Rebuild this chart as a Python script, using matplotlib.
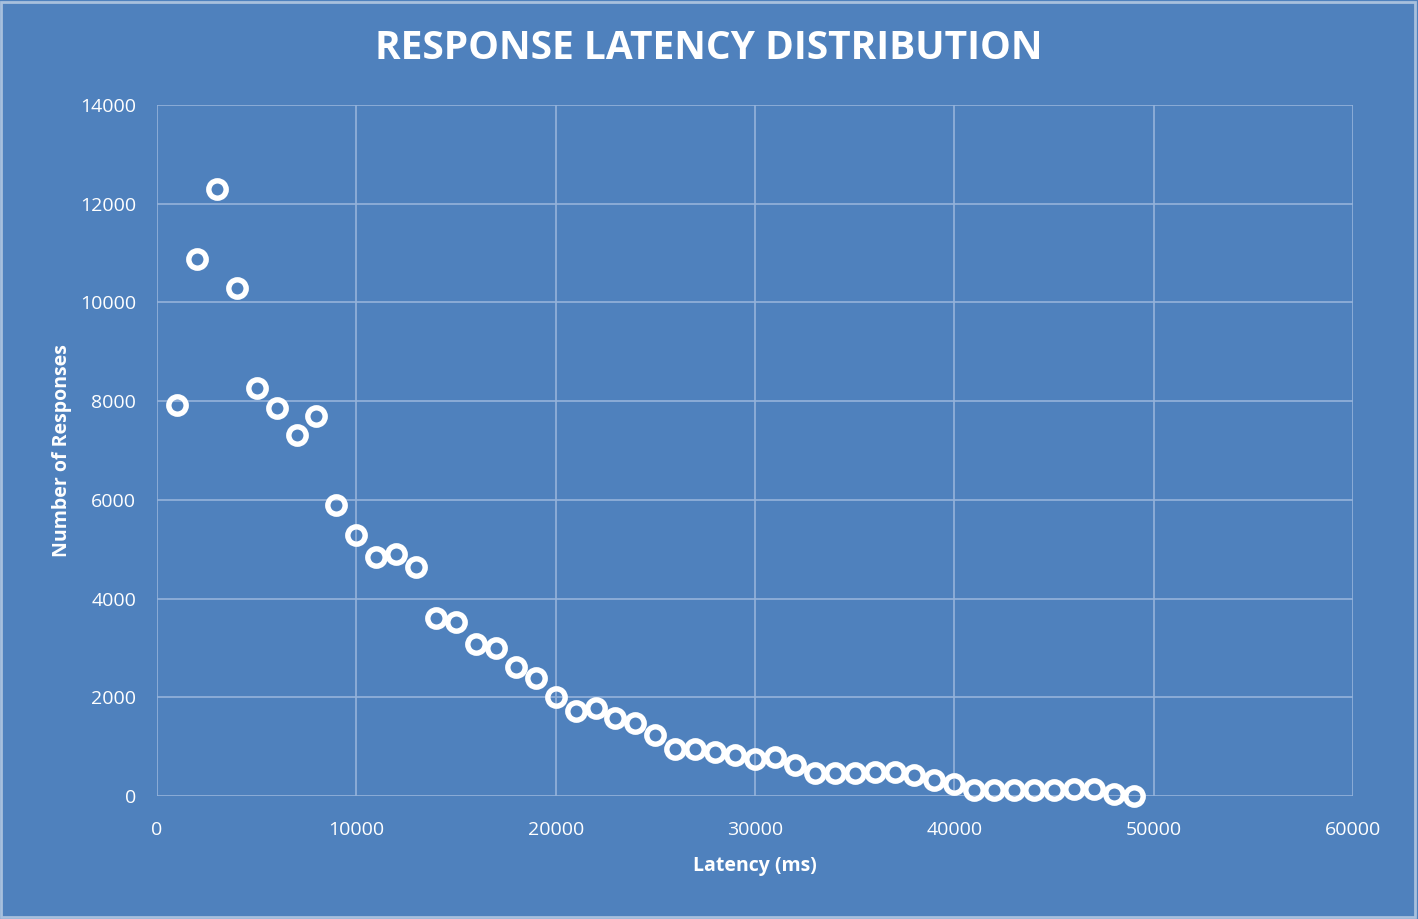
#- Scatter of response latency counts, Excel-style blue chart.

import numpy as np
import matplotlib.pyplot as plt
from matplotlib.patches import Rectangle


#- Data:  latency bins (ms) and number of responses in each bin.

latency_ms = np.arange(1000, 50000, 1000)
responses = np.array([
    7920, 10880, 12300, 10290, 8260, 7870, 7310, 7700, 5900, 5290,
    4840, 4910, 4640, 3600, 3530, 3090, 3000, 2610, 2390, 2000,
    1720, 1780, 1590, 1470, 1230, 960, 960, 900, 840, 750,
    800, 630, 470, 470, 470, 480, 480, 420, 320, 240,
    130, 130, 130, 130, 130, 140, 150, 50, 0])

x_ticks = [0, 10000, 20000, 30000, 40000, 50000, 60000]
y_ticks = [0, 2000, 4000, 6000, 8000, 10000, 12000, 14000]


#- Styling:

bg = '#4F81BD'
grid_col = '#95B3DA'
plt.rcParams['font.family'] = ['Open Sans', 'DejaVu Sans']

fig = plt.figure(figsize=(14.18, 9.19), dpi=100, facecolor=bg)
ax = fig.add_axes([0.1107, 0.1338, 0.8435, 0.7519])
ax.set_facecolor(bg)

ax.plot(latency_ms, responses, linestyle='none', marker='o',
        markersize=12.5, markeredgewidth=3.9, markeredgecolor='white',
        markerfacecolor='none', zorder=3, clip_on=False)

ax.set_xlim(0, 60000)
ax.set_ylim(0, 14000)
ax.set_xticks(x_ticks)
ax.set_yticks(y_ticks)
ax.grid(True, color=grid_col, linewidth=1.2)
ax.set_axisbelow(True)
for s in ax.spines.values():
    s.set_visible(False)
ax.tick_params(length=0, colors='white', labelsize=14)
ax.tick_params(axis='x', pad=18)
ax.tick_params(axis='y', pad=15)

ax.set_xlabel('Latency (ms)', color='white', fontsize=14,
              fontweight='bold', labelpad=12)
ax.set_ylabel('Number of Responses', color='white', fontsize=14,
              fontweight='bold', labelpad=6)

fig.text(0.5, 0.947, 'RESPONSE LATENCY DISTRIBUTION', color='white',
         fontsize=28, fontweight='bold', ha='center', va='center')

# thin light frame like the original image edge
fig.patches.append(Rectangle((0.001, 0.002), 0.997, 0.996,
                             transform=fig.transFigure, fill=False,
                             edgecolor='#A8C0DD', linewidth=2))

fig.savefig('out.png', dpi=100, facecolor=bg)


#===== end file =====
